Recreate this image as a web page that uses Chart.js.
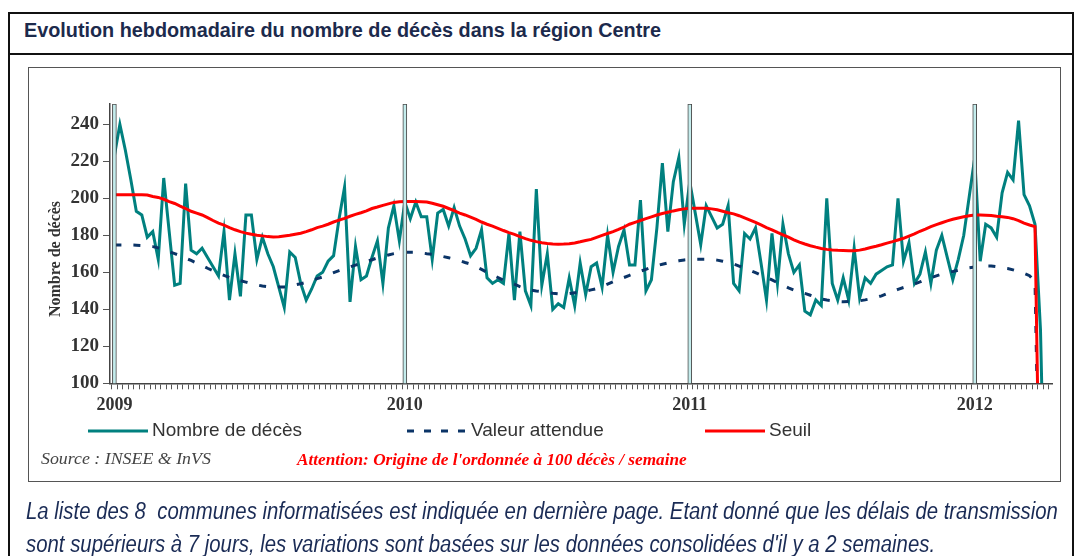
<!DOCTYPE html>
<html>
<head>
<meta charset="utf-8">
<script src="https://cdn.jsdelivr.net/npm/chart.js@4.4.1/dist/chart.umd.min.js"></script>
<style>
  body { margin: 0; width: 1077px; height: 556px; overflow: hidden; background: #fff; position: relative; font-family: "Liberation Sans", Arial, sans-serif; }
  .abs { position: absolute; }
  #frame { left: 8px; top: 12px; width: 1062px; height: 600px; border: 2px solid #111; }
  #sep { left: 8px; top: 53px; width: 1066px; height: 2px; background: #111; }
  #title { left: 24px; top: 19px; font-weight: bold; font-size: 20px; color: #1c2a4c; white-space: nowrap; transform: scaleX(0.99); transform-origin: left top; }
  #box { left: 28px; top: 67px; width: 1031px; height: 413px; border: 1.5px solid #555; }
  #chart { left: 28px; top: 68px; }
  #ytitle { left: 55px; top: 259px; transform: translate(-50%, -50%) rotate(-90deg); font-family: "Liberation Serif", serif; font-weight: bold; font-size: 16px; color: #333; white-space: nowrap; }
  .leg { top: 419px; font-size: 19px; color: #333; white-space: nowrap; }
  #source { left: 41px; top: 448px; font-family: "Liberation Serif", serif; font-style: italic; font-size: 17.5px; color: #444; white-space: nowrap; transform: scaleX(1.02); transform-origin: left top; }
  #warn { left: 297px; top: 449px; font-family: "Liberation Serif", serif; font-style: italic; font-weight: bold; font-size: 17.5px; color: #f00; white-space: nowrap; transform: scaleX(0.985); transform-origin: left top; }
  .note { left: 26px; font-style: italic; font-size: 23px; color: #1a2b55; white-space: nowrap; transform: scaleX(0.885); transform-origin: left top; }
</style>
</head>
<body>
<div id="frame" class="abs"></div>
<div id="sep" class="abs"></div>
<div id="title" class="abs">Evolution hebdomadaire du nombre de décès dans la région Centre</div>
<div id="box" class="abs"></div>
<canvas id="chart" class="abs" width="1034" height="414"></canvas>
<div id="ytitle" class="abs">Nombre de décès</div>

<svg class="abs" style="left:0;top:0" width="1077" height="556">
  <line x1="88" y1="431" x2="148" y2="431" stroke="#00807f" stroke-width="3"/>
  <line x1="407" y1="431" x2="469" y2="431" stroke="#0b3467" stroke-width="3" stroke-dasharray="7 10"/>
  <line x1="705" y1="431" x2="765" y2="431" stroke="#ff0000" stroke-width="3"/>
</svg>
<div class="abs leg" style="left:152px">Nombre de décès</div>
<div class="abs leg" style="left:471px">Valeur attendue</div>
<div class="abs leg" style="left:769px">Seuil</div>
<div id="source" class="abs">Source : INSEE &amp; InVS</div>
<div id="warn" class="abs">Attention: Origine de l'ordonnée à 100 décès / semaine</div>
<div class="abs note" style="top:498px">La liste des 8&nbsp; communes informatisées est indiquée en dernière page. Etant donné que les délais de transmission</div>
<div class="abs note" style="top:531px">sont supérieurs à 7 jours, les variations sont basées sur les données consolidées d'il y a 2 semaines.</div>

<script>
// week index 0 = first week of 2009
const years = ["2009", "2010", "2011", "2012"];
const yearStart = [0, 53, 105, 157];
const yTicks = [100, 120, 140, 160, 180, 200, 220, 240];
const yMax = 251;

const deces = [
  223, 240, 226, 210, 193, 191, 179, 182, 167, 211, 182, 153, 154, 208, 172, 170, 173, 168, 163, 158,
  182, 145, 170, 147, 191, 191, 167, 179, 170, 163, 152, 141, 171, 168, 154, 145, 151, 158, 160, 166,
  169, 189, 206, 144, 174, 156, 158, 168, 177, 154, 184, 196, 177, 198, 189, 198, 190, 190, 167, 192,
  194, 185, 195, 185, 178, 169, 173, 183, 157, 154, 156, 154, 181, 145, 182, 150, 142, 205, 153, 170,
  140, 143, 141, 157, 142, 165, 148, 163, 165, 152, 180, 160, 174, 183, 164, 164, 199, 150, 156, 184,
  219, 182, 209, 222, 186, 209, 192, 175, 196, 190, 184, 186, 196, 154, 150, 181, 178, 184, 165, 145,
  181, 154, 186, 170, 160, 164, 139, 137, 145, 142, 200, 154, 145, 157, 145, 173, 146, 157, 154, 159,
  161, 163, 164, 200, 166, 176, 154, 159, 171, 154, 172, 180, 168, 156, 167, 180, 201, 222, 166, 186,
  184, 179, 203, 214, 210, 242, 202, 196, 186, 129, 0
];

const attendue = [
  174.8, 174.8, 174.8, 174.8, 174.7, 174.5, 174.2, 173.9, 173.2, 172.2, 171.2, 170.1, 169.0, 167.6, 166.4, 165.0, 163.6, 162.2, 160.9, 159.6,
  158.4, 157.2, 156.3, 155.5, 154.7, 153.9, 153.2, 152.6, 152.2, 152.0, 152.0, 152.1, 152.5, 153.2, 153.8, 154.6, 155.6, 156.6, 157.5, 158.7,
  159.8, 160.9, 161.9, 162.9, 163.9, 164.8, 165.8, 166.8, 167.8, 168.6, 169.4, 170.1, 170.5, 170.8, 170.8, 170.8, 170.5, 170.1, 169.8, 169.2,
  168.5, 167.9, 167.2, 166.3, 165.3, 164.4, 163.0, 161.6, 160.0, 158.6, 157.2, 155.8, 154.8, 153.6, 152.3, 151.1, 150.4, 149.9, 149.5, 149.1,
  148.7, 148.4, 148.3, 148.5, 148.9, 149.2, 149.8, 150.5, 151.2, 152.3, 153.6, 154.9, 156.1, 157.2, 158.4, 159.5, 160.6, 161.6, 162.7, 163.6,
  164.4, 165.1, 165.7, 166.2, 166.7, 167.0, 167.0, 167.0, 167.0, 167.0, 166.6, 166.0, 165.3, 164.5, 163.4, 162.1, 161.0, 159.8, 158.5, 157.3,
  155.9, 154.4, 153.0, 151.6, 150.4, 149.3, 148.6, 147.6, 146.6, 145.6, 145.0, 144.6, 144.2, 144.1, 144.2, 144.4, 144.6, 145.1, 145.7, 146.4,
  147.3, 148.5, 149.7, 150.8, 151.8, 152.7, 153.7, 154.8, 156.0, 157.1, 158.1, 159.0, 159.9, 160.4, 161.1, 161.8, 162.5, 162.9, 163.2, 163.4,
  163.4, 163.0, 162.5, 162.1, 161.3, 160.4, 159.4, 158.2, 155.0, 0
];

const seuil = [
  202.0, 202.0, 202.0, 202.0, 202.0, 202.0, 201.8, 201.0, 200.5, 199.5, 198.2, 197.2, 195.8, 194.5, 193.0, 192.0, 191.0, 189.6, 188.0, 186.6,
  185.5, 184.2, 183.0, 182.0, 181.2, 180.6, 180.0, 179.7, 179.3, 179.1, 179.2, 179.6, 180.0, 180.6, 181.1, 182.0, 183.0, 184.2, 185.0, 186.0,
  187.2, 188.2, 189.2, 190.3, 191.3, 192.2, 193.2, 194.5, 195.3, 196.2, 197.0, 197.8, 198.2, 198.3, 198.3, 198.3, 198.2, 198.0, 197.3, 196.5,
  195.7, 194.5, 193.3, 192.0, 191.0, 189.8, 188.6, 187.2, 186.0, 185.0, 183.8, 182.6, 181.5, 180.5, 179.3, 178.2, 177.3, 176.6, 176.0, 175.6,
  175.3, 175.2, 175.3, 175.5, 175.9, 176.5, 177.2, 177.8, 178.9, 180.0, 181.0, 182.0, 183.2, 184.5, 186.0, 187.0, 188.0, 189.0, 190.0, 191.0,
  191.8, 192.5, 193.2, 193.8, 194.3, 194.6, 194.7, 194.7, 194.6, 194.3, 193.8, 193.0, 192.2, 191.6, 190.6, 189.4, 188.2, 187.0, 185.6, 184.2,
  183.0, 181.6, 180.3, 179.0, 177.6, 176.3, 175.3, 174.4, 173.6, 172.9, 172.4, 172.1, 171.9, 171.8, 171.7, 171.7, 172.0, 172.6, 173.4, 174.1,
  174.9, 175.8, 176.6, 177.5, 178.4, 179.6, 180.8, 182.2, 183.4, 184.7, 185.8, 186.8, 187.8, 188.7, 189.4, 190.0, 190.6, 191.0, 191.0, 190.9,
  190.7, 190.3, 190.0, 189.7, 189.0, 188.0, 186.6, 185.6, 184.7, 0
];

const toPoints = arr => arr.map((v, i) => ({ x: i, y: v }));
const weekTicks = Array.from({ length: 171 }, (_, i) => ({ value: i }));

new Chart(document.getElementById("chart").getContext("2d"), {
  data: {
    datasets: [
      { type: "bar", data: yearStart.map(i => ({ x: i, y: yMax })), backgroundColor: "#c4ecec", borderColor: "#4a4a4a", borderWidth: 1, barThickness: 4, order: 0 },
      { type: "line", label: "Seuil", data: toPoints(seuil), borderColor: "#ff0000", borderWidth: 3, pointRadius: 0, tension: 0, order: 1 },
      { type: "line", label: "Valeur attendue", data: toPoints(attendue), borderColor: "#0b3467", borderWidth: 3, borderDash: [7, 12], pointRadius: 0, tension: 0, order: 2 },
      { type: "line", label: "Nombre de décès", data: toPoints(deces), borderColor: "#00807f", borderWidth: 3, pointRadius: 0, tension: 0, order: 3 }
    ]
  },
  options: {
    responsive: false,
    animation: false,
    layout: { padding: { left: 0, top: 36, right: 10, bottom: 0 } },
    plugins: { legend: { display: false }, tooltip: { enabled: false } },
    scales: {
      x: {
        type: "linear", min: -0.3, max: 170.6,
        afterBuildTicks: s => { s.ticks = weekTicks.slice(); },
        afterFit: s => { s.height = 98.7; },
        ticks: {
          autoSkip: false, maxRotation: 0, padding: 5, color: "#333",
          font: { family: "Liberation Serif", weight: "bold", size: 18 },
          callback: v => { const k = yearStart.indexOf(v); return k >= 0 ? years[k] : ""; }
        },
        grid: { drawOnChartArea: false, tickLength: 6, color: "#555" },
        border: { color: "#444", width: 1.5 }
      },
      y: {
        min: 100, max: yMax,
        afterBuildTicks: s => { s.ticks = yTicks.map(v => ({ value: v })); },
        afterFit: s => { s.width = 82; },
        ticks: { padding: 4, color: "#333", font: { family: "Liberation Serif", weight: "bold", size: 19 } },
        grid: { drawOnChartArea: false, tickLength: 7, color: "#555" },
        border: { color: "#444", width: 1.5 }
      }
    }
  }
});
</script>
</body>
</html>
